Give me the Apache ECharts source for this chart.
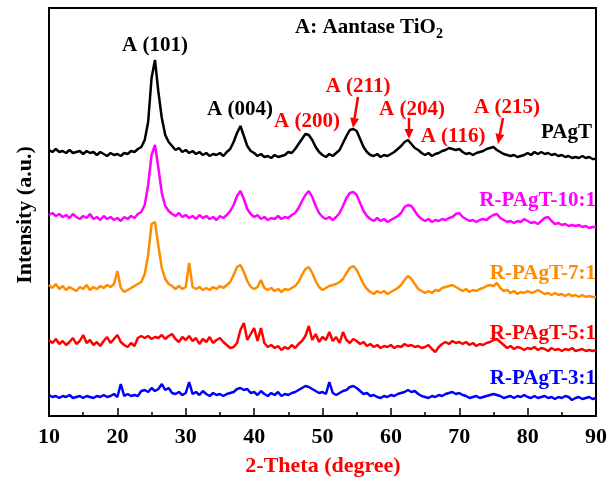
<!DOCTYPE html>
<html>
<head>
<meta charset="utf-8">
<script src="https://cdn.jsdelivr.net/npm/echarts@6/dist/echarts.min.js"></script>
<style>
html,body{margin:0;padding:0;background:#fff;}
#c{width:610px;height:481px;}
</style>
</head>
<body>
<div id="c"></div>
<script>
// 2-Theta sampling: 10 to 90 degrees, 0.5 degree steps
var thetaStart = 10, thetaStep = 0.5;
var xTicks = ['10','20','30','40','50','60','70','80','90'];
var seriesNames = ['PAgT','R-PAgT-10:1','R-PAgT-7:1','R-PAgT-5:1','R-PAgT-3:1'];
var seriesColors = ['#000000','#ff00ff','#ff8c00','#ff0000','#0000ff'];

// intensities (a.u., curves stacked with offsets as in the figure)
var pagt = [
266,264,267,264,265,263,266,263,264,265,
262,265,263,264,261,264,262,260,263,261,
262,260,263,262,265,264,267,269,276,294,
338,356,324,298,281,274,270,266,268,264,
266,263,265,262,264,261,263,260,262,261,
263,260,264,267,274,283,290,280,270,265,
263,260,262,259,260,258,261,259,260,261,
264,263,267,272,277,282,281,276,269,264,
261,259,262,260,263,266,273,280,286,287,
285,277,269,264,261,260,262,259,261,260,
262,264,267,270,274,276,272,268,266,263,
261,263,260,262,263,265,266,268,267,266,
267,264,262,263,261,263,264,265,267,268,
269,266,264,262,261,260,261,259,260,261,
263,261,264,262,264,262,263,261,262,260,
261,259,260,258,259,258,260,258,259,257,
257];
var r10 = [
201,203,200,202,199,201,198,202,199,197,
200,198,202,197,199,196,200,197,199,196,
198,195,199,197,200,198,202,204,211,231,
261,271,248,223,210,205,202,200,203,199,
201,198,200,197,201,198,200,197,199,196,
200,198,201,205,211,220,225,217,207,202,
199,201,197,199,196,198,197,200,197,199,
198,201,203,208,215,221,225,219,210,203,
199,197,199,196,199,203,210,218,223,224,
221,213,205,200,197,195,198,195,197,194,
196,198,200,203,209,211,210,205,200,197,
195,197,194,196,195,197,196,198,199,202,
203,199,197,195,196,194,196,197,196,199,
201,202,198,196,194,195,193,195,194,197,
195,193,194,192,195,198,199,195,192,193,
191,192,190,191,190,191,189,190,188,189,
189];
var r7 = [
131,128,132,127,130,126,129,127,125,129,
127,131,126,129,127,130,128,131,129,132,
145,128,124,126,128,130,132,134,142,161,
192,194,170,148,137,132,130,127,130,127,
129,153,129,127,129,126,128,126,129,127,
130,128,131,134,141,149,151,144,135,129,
127,129,136,128,126,128,125,127,124,127,
126,128,130,134,141,147,149,143,135,129,
126,128,130,131,132,134,137,143,148,150,
146,139,132,127,124,122,125,123,125,122,
124,126,128,131,136,140,137,132,127,125,
123,125,123,126,125,128,129,130,131,129,
127,125,127,124,126,125,127,128,130,131,
130,133,128,125,126,123,125,122,124,123,
125,123,124,126,124,122,123,121,123,121,
122,120,122,120,121,119,121,119,120,119,
119];
var r5 = [
76,73,77,72,75,71,74,78,72,75,
81,73,76,71,74,70,75,79,73,77,
81,74,71,69,73,70,78,80,78,80,
77,79,78,81,77,80,82,77,74,79,
76,80,75,78,72,77,74,79,73,76,
78,74,71,68,69,73,86,93,76,82,
88,75,88,73,69,71,68,70,66,69,
67,71,68,72,75,80,90,76,82,74,
79,76,84,75,79,73,84,76,73,77,
75,72,74,70,72,69,71,68,70,69,
71,68,70,69,72,70,71,69,70,68,
69,71,67,64,69,72,74,72,75,73,
74,72,74,71,73,70,72,71,73,74,
76,77,74,71,68,70,67,69,68,66,
68,67,69,66,68,67,65,68,66,67,
65,67,66,68,65,66,67,65,66,65,
66];
var r3 = [
21,19,20,18,20,19,21,18,19,20,
18,20,19,18,20,19,21,19,20,22,
19,32,20,22,20,21,20,25,26,24,
28,25,27,32,26,28,23,22,24,21,
23,34,22,24,21,25,22,20,23,21,
22,20,22,23,24,27,28,26,27,23,
24,21,25,22,20,23,21,24,20,22,
21,23,24,26,28,30,29,27,25,23,
24,22,34,23,21,23,25,26,29,30,
28,25,22,23,20,21,19,18,20,19,
21,20,22,23,24,26,24,25,22,20,
19,18,20,19,21,20,22,23,24,22,
23,21,20,18,19,20,18,19,20,21,
22,21,20,18,19,20,18,20,19,21,
19,18,20,18,19,20,18,19,17,19,
18,20,19,16,18,19,17,18,19,17,
18];

var allData = [pagt, r10, r7, r5, r3];
var series = allData.map(function (arr, k) {
  return {
    name: seriesNames[k],
    type: 'line',
    showSymbol: false,
    symbol: 'none',
    animation: false,
    lineStyle: { color: seriesColors[k], width: 2.5, join: 'bevel' },
    data: arr.map(function (v, i) { return [thetaStart + thetaStep * i, v]; })
  };
});

var FF = 'Liberation Serif, Times New Roman, serif';
function txt(x, y, s, color, align) {
  return { type: 'text', x: x, y: y, z: 100,
    style: { text: s, fill: color, font: 'bold 21px ' + FF, align: align || 'center', verticalAlign: 'middle' } };
}
function arrow(x1, y1, x2, y2) {
  var dx = x2 - x1, dy = y2 - y1, L = Math.sqrt(dx*dx + dy*dy);
  var ux = dx / L, uy = dy / L, hl = 10, hw = 4.5;
  var bx = x2 - ux * hl, by = y2 - uy * hl;
  return [
    { type: 'line', z: 100, shape: { x1: x1, y1: y1, x2: bx, y2: by }, style: { stroke: '#ff0000', lineWidth: 2.5 } },
    { type: 'polygon', z: 100, shape: { points: [[x2, y2], [bx - uy * hw, by + ux * hw], [bx + uy * hw, by - ux * hw]] }, style: { fill: '#ff0000' } }
  ];
}

var graphics = [
  txt(155, 46, 'A (101)', '#000'),
  txt(240, 110, 'A (004)', '#000'),
  txt(307, 122, 'A (200)', '#ff0000'),
  txt(358, 87, 'A (211)', '#ff0000'),
  txt(412, 110, 'A (204)', '#ff0000'),
  txt(453, 137, 'A (116)', '#ff0000'),
  txt(507, 108, 'A (215)', '#ff0000'),
  txt(592, 133, 'PAgT', '#000', 'right'),
  txt(596, 201, 'R-PAgT-10:1', '#ff00ff', 'right'),
  txt(596, 274, 'R-PAgT-7:1', '#ff8c00', 'right'),
  txt(596, 334, 'R-PAgT-5:1', '#ff0000', 'right'),
  txt(596, 379, 'R-PAgT-3:1', '#0000ff', 'right'),
  { type: 'text', x: 369, y: 28, z: 100,
    style: { text: '{a|A: Aantase TiO}{s|2}', align: 'center', verticalAlign: 'middle',
      rich: { a: { font: 'bold 21px ' + FF, fill: '#000' },
              s: { font: 'bold 14px ' + FF, fill: '#000', padding: [12, 0, 0, 0] } } } },
  { type: 'text', x: 25, y: 215, rotation: Math.PI / 2, z: 100,
    style: { text: 'Intensity (a.u.)', fill: '#000', font: 'bold 22px ' + FF, align: 'center', verticalAlign: 'middle' } },
  { type: 'text', x: 323, y: 466, z: 100,
    style: { text: '2-Theta (degree)', fill: '#ff0000', font: 'bold 22px ' + FF, align: 'center', verticalAlign: 'middle' } }
].concat(arrow(358, 97, 353, 128)).concat(arrow(409, 118, 409, 139)).concat(arrow(503, 118, 498, 144));

var chart = echarts.init(document.getElementById('c'), null, { renderer: 'canvas' });
chart.setOption({
  animation: false,
  backgroundColor: '#fff',
  grid: { left: 49, right: 12, top: 8, bottom: 65, show: true, borderColor: '#000', borderWidth: 2, backgroundColor: 'transparent' },
  xAxis: {
    type: 'value', min: 10, max: 90, interval: 10,
    axisLine: { show: true, lineStyle: { color: '#000', width: 2 } },
    axisTick: { show: true, inside: true, length: 8, lineStyle: { color: '#000', width: 1.5 } },
    minorTick: { show: true, splitNumber: 2, length: 4, lineStyle: { color: '#000', width: 1.5 } },
    splitLine: { show: false },
    axisLabel: { color: '#000', fontFamily: FF, fontWeight: 'bold', fontSize: 22, margin: 10,
      formatter: function (v) { return xTicks[Math.round((v - 10) / 10)]; } }
  },
  yAxis: {
    type: 'value', min: 0, max: 408,
    axisLine: { show: true, lineStyle: { color: '#000', width: 2 } },
    axisTick: { show: false }, axisLabel: { show: false }, splitLine: { show: false }
  },
  series: series,
  graphic: graphics
});
</script>
</body>
</html>
